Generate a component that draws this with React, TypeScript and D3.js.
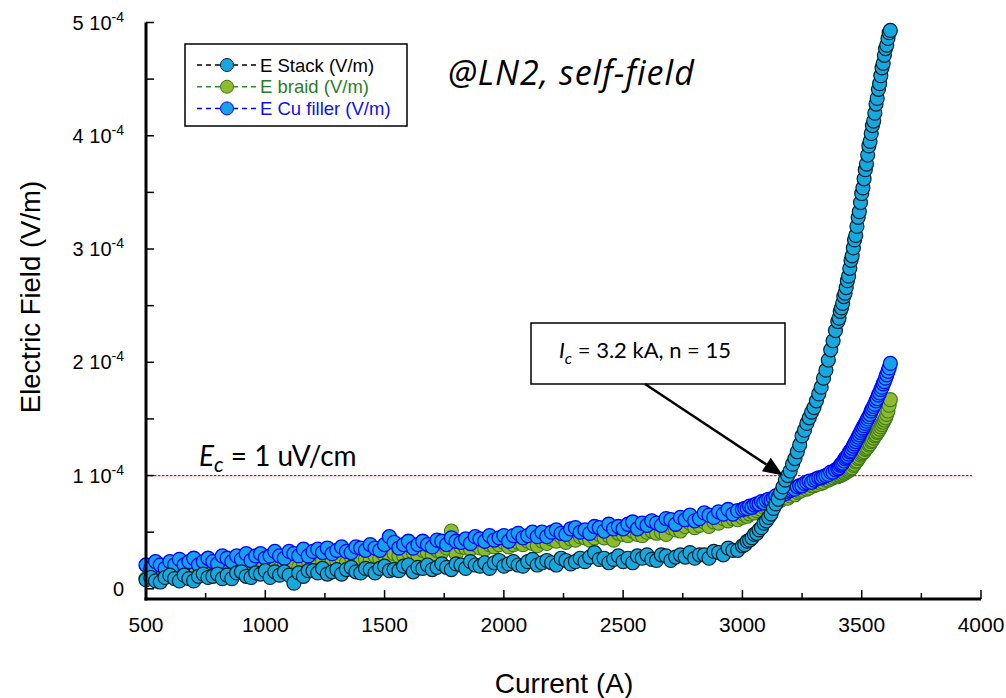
import React from "react";
import * as d3 from "d3";

// Shared current sweep (A)
const currentA = [
  500, 520, 540, 560, 580, 600, 620, 640, 660, 680,
  700, 720, 740, 760, 780, 800, 820, 840, 860, 880,
  900, 920, 940, 960, 980, 1000, 1020, 1040, 1060, 1080,
  1100, 1120, 1140, 1160, 1180, 1200, 1220, 1240, 1260, 1280,
  1300, 1320, 1340, 1360, 1380, 1400, 1420, 1440, 1460, 1480,
  1500, 1520, 1540, 1560, 1580, 1600, 1620, 1640, 1660, 1680,
  1700, 1720, 1740, 1760, 1780, 1800, 1820, 1840, 1860, 1880,
  1900, 1920, 1940, 1960, 1980, 2000, 2020, 2040, 2060, 2080,
  2100, 2120, 2140, 2160, 2180, 2200, 2220, 2240, 2260, 2280,
  2300, 2320, 2340, 2360, 2380, 2400, 2420, 2440, 2460, 2480,
  2500, 2520, 2540, 2560, 2580, 2600, 2620, 2640, 2660, 2680,
  2700, 2720, 2740, 2760, 2780, 2800, 2820, 2840, 2860, 2880,
  2900, 2920, 2940, 2960, 2980,
  3000, 3010, 3020, 3030, 3040, 3050, 3060, 3070, 3080, 3090,
  3100, 3110, 3120, 3130, 3140, 3150, 3160, 3170, 3180, 3190,
  3200, 3210, 3220, 3230, 3240, 3250, 3260, 3270, 3280, 3290,
  3300, 3310, 3320, 3330, 3340, 3350, 3360, 3370, 3380, 3390,
  3400, 3405, 3410, 3415, 3420, 3425, 3430, 3435, 3440, 3445,
  3450, 3455, 3460, 3465, 3470, 3475, 3480, 3485, 3490, 3495,
  3500, 3505, 3510, 3515, 3520, 3525, 3530, 3535, 3540, 3545,
  3550, 3555, 3560, 3565, 3570, 3575, 3580, 3585, 3590, 3595,
  3600, 3605, 3610, 3615, 3620,
];

// Electric fields in µV/m (1e-6 V/m)
const eStack = [
  8, 10, 7, 6, 10, 12, 9, 7, 12, 9,
  7, 11, 13, 10, 11, 13, 9, 12, 9, 14,
  15, 11, 10, 14, 13, 16, 10, 15, 12, 15,
  12, 5, 14, 11, 16, 16, 14, 18, 13, 15,
  17, 13, 17, 19, 15, 14, 18, 17, 14, 18,
  20, 16, 17, 16, 20, 21, 15, 19, 18, 21,
  17, 19, 22, 19, 17, 22, 21, 18, 24, 21,
  20, 23, 18, 23, 25, 20, 22, 24, 21, 20,
  24, 26, 21, 23, 25, 23, 21, 27, 25, 22,
  24, 27, 24, 28, 32, 26, 27, 23, 26, 29,
  24, 27, 23, 29, 27, 30, 26, 25, 30, 29,
  25, 28, 30, 28, 32, 27, 30, 30, 27, 33,
  32, 30, 36, 34, 34,
  38, 39, 42, 43, 45, 48, 49, 52, 54, 58,
  60, 63, 66, 71, 75, 79, 85, 90, 96, 100,
  104, 110, 115, 121, 127, 135, 140, 146, 151, 156,
  160, 166, 172, 178, 186, 193, 202, 211, 219, 228,
  236, 239, 245, 248, 252, 258, 261, 266, 272, 276,
  283, 290, 294, 301, 308, 312, 320, 328, 333, 341,
  349, 354, 362, 370, 375, 383, 391, 395, 402, 409,
  413, 420, 428, 433, 441, 446, 453, 460, 464, 471,
  477, 480, 486, 491, 493,
];

const eBraid = [
  9, 12, 11, 9, 12, 15, 10, 12, 15, 12,
  14, 12, 16, 14, 12, 16, 17, 15, 16, 19,
  15, 18, 17, 20, 17, 15, 21, 20, 18, 20,
  23, 20, 19, 23, 24, 22, 20, 25, 22, 25,
  24, 27, 23, 28, 25, 27, 26, 25, 29, 27,
  29, 25, 31, 29, 29, 32, 32, 29, 34, 32,
  30, 34, 32, 36, 51, 31, 37, 36, 35, 39,
  36, 35, 39, 37, 39, 41, 37, 39, 41, 39,
  42, 40, 38, 42, 40, 44, 42, 46, 41, 44,
  43, 46, 45, 43, 45, 48, 45, 47, 43, 49,
  48, 47, 51, 48, 47, 50, 51, 49, 50, 48,
  54, 52, 51, 55, 58, 54, 56, 59, 55, 59,
  58, 62, 60, 62, 61,
  63, 65, 64, 66, 68, 67, 69, 71, 70, 72,
  73, 75, 74, 76, 77, 79, 78, 80, 81, 80,
  82, 84, 83, 85, 86, 87, 89, 88, 89, 91,
  91, 92, 94, 93, 94, 96, 96, 97, 98, 99,
  99, 100, 100, 101, 101, 102, 102, 103, 104, 104,
  105, 106, 107, 109, 110, 112, 113, 115, 116, 118,
  119, 120, 121, 123, 124, 125, 127, 128, 130, 131,
  133, 135, 136, 138, 139, 141, 143, 145, 147, 149,
  151, 154, 157, 162, 167,
];

const eCuFiller = [
  21, 18, 24, 21, 18, 24, 21, 26, 21, 24,
  27, 21, 24, 27, 24, 22, 29, 27, 24, 29,
  26, 31, 25, 29, 31, 27, 29, 33, 29, 27,
  33, 31, 29, 35, 29, 33, 35, 32, 36, 31,
  34, 37, 33, 32, 37, 36, 34, 39, 36, 34,
  39, 46, 41, 36, 39, 42, 36, 39, 42, 39,
  37, 43, 42, 39, 45, 42, 41, 44, 40, 46,
  44, 42, 47, 43, 45, 47, 42, 47, 49, 45,
  47, 50, 46, 50, 46, 50, 52, 49, 48, 53,
  54, 50, 52, 49, 55, 54, 51, 57, 53, 55,
  53, 57, 59, 53, 58, 56, 60, 58, 56, 62,
  61, 57, 63, 61, 65, 60, 62, 67, 65, 63,
  68, 66, 70, 66, 69,
  70, 71, 71, 73, 72, 74, 75, 75, 77, 76,
  78, 79, 78, 80, 82, 81, 83, 85, 84, 86,
  87, 88, 88, 90, 91, 91, 93, 94, 95, 94,
  96, 97, 98, 98, 99, 100, 101, 103, 103, 105,
  106, 107, 109, 110, 111, 113, 115, 116, 117, 119,
  121, 122, 124, 126, 128, 130, 132, 134, 136, 138,
  140, 142, 144, 146, 148, 150, 152, 154, 157, 159,
  161, 163, 166, 168, 171, 173, 176, 178, 181, 183,
  186, 189, 192, 195, 199,
];

const xTicks = [500, 1000, 1500, 2000, 2500, 3000, 3500, 4000];
const xMinorTicks = [750, 1250, 1750, 2250, 2750, 3250, 3750];
const yTicks = [0, 1e-4, 2e-4, 3e-4, 4e-4, 5e-4];
const yTickMantissa = ["0", "1", "2", "3", "4", "5"];
const yMinorTicks = [0.5e-4, 1.5e-4, 2.5e-4, 3.5e-4, 4.5e-4];
const seriesNames = ["E Stack (V/m)", "E braid (V/m)", "E Cu filler (V/m)"];
const criticalField = 1e-4; // 1 uV/cm
const criticalCurrentMark = 3170;

const LATO = "Lato, 'Open Sans', sans-serif";
const OPEN = "'Open Sans', Lato, sans-serif";
const ARIAL = "'Liberation Sans', Arial, sans-serif";

export default function App() {
  const W = 1006, H = 698;
  const x = d3.scaleLinear().domain([500, 4000]).range([146, 981]);
  const y = d3.scaleLinear().domain([-0.09e-4, 5e-4]).range([599, 22.5]);

  const series = [
    { name: seriesNames[1], values: eBraid, fill: "#8dbb2b", stroke: "#3a7a1a", sw: 1.1, line: "#2e8b2e", text: "#2a7d2a" },
    { name: seriesNames[2], values: eCuFiller, fill: "#17a2e6", stroke: "#0000ff", sw: 1.3, line: "#0000ff", text: "#1010e8" },
    { name: seriesNames[0], values: eStack, fill: "#17a8e0", stroke: "#08202a", sw: 1.2, line: "#000000", text: "#000000" },
  ];
  const legendOrder = [series[2], series[0], series[1]];

  const lineGen = d3.line<number>()
    .x((_, i) => x(currentA[i]))
    .y((v) => y(v * 1e-6));

  // arrow
  const tipX = x(criticalCurrentMark), tipY = y(criticalField);
  const startX = 645, startY = 384;
  const dx = tipX - startX, dy = tipY - startY;
  const len = Math.hypot(dx, dy);
  const ux = dx / len, uy = dy / len;
  const hl = 20, hw = 8;
  const bx = tipX - hl * ux, by = tipY - hl * uy;
  const arrowPts = `${tipX},${tipY} ${bx - hw * uy},${by + hw * ux} ${bx + hw * uy},${by - hw * ux}`;

  const y0 = y.range()[0];
  const yTop = y(5e-4);

  return (
    <svg width={W} height={H} style={{ position: "absolute", left: 0, top: 0, background: "#fff" }}>
      <rect x={0} y={0} width={W} height={H} fill="#fff" />

      {/* Ec line */}
      <line x1={x(500)} x2={972} y1={y(criticalField)} y2={y(criticalField)} stroke="#ff0000" strokeWidth={1.2} strokeDasharray="2.5,1.5" />

      {/* series */}
      {series.map((s) => (
        <g key={s.name}>
          <path d={lineGen(s.values) || ""} fill="none" stroke={s.line} strokeWidth={1} strokeDasharray="4,3" />
          {s.values.map((v, i) => (
            <circle key={i} cx={x(currentA[i])} cy={y(v * 1e-6)} r={7} fill={s.fill} stroke={s.stroke} strokeWidth={s.sw} />
          ))}
        </g>
      ))}

      {/* axes */}
      <line x1={x(500)} x2={x(500)} y1={y0 + 1.5} y2={yTop} stroke="#000" strokeWidth={3} />
      <line x1={x(500) - 1.5} x2={x(4000)} y1={y0} y2={y0} stroke="#000" strokeWidth={3} />
      {yTicks.map((t) => (
        <line key={"yt" + t} x1={x(500)} x2={x(500) + 8} y1={y(t)} y2={y(t)} stroke="#000" strokeWidth={1.5} />
      ))}
      {yMinorTicks.map((t) => (
        <line key={"ym" + t} x1={x(500)} x2={x(500) + 8} y1={y(t)} y2={y(t)} stroke="#000" strokeWidth={1.5} />
      ))}
      {xTicks.map((t) => (
        <line key={"xt" + t} x1={x(t)} x2={x(t)} y1={y0} y2={y0 - 9} stroke="#000" strokeWidth={1.5} />
      ))}
      {xMinorTicks.map((t) => (
        <line key={"xm" + t} x1={x(t)} x2={x(t)} y1={y0} y2={y0 - 6} stroke="#000" strokeWidth={1.5} />
      ))}

      {/* tick labels */}
      {xTicks.map((t) => (
        <text key={"xl" + t} x={x(t)} y={632} textAnchor="middle" fontFamily={ARIAL} fontSize={21} fill="#000">{t}</text>
      ))}
      {yTicks.map((t, i) => (
        <text key={"yl" + t} x={124} y={y(t) + 7} textAnchor="end" fontFamily={ARIAL} fontSize={20} fill="#000">
          {i === 0 ? "0" : (<>{yTickMantissa[i]} 10<tspan dy={-8} fontSize={14}>-4</tspan></>)}
        </text>
      ))}

      {/* axis titles */}
      <text x={564} y={693} textAnchor="middle" fontFamily={ARIAL} fontSize={28} fill="#000">Current (A)</text>
      <text transform={`translate(40,297) rotate(-90)`} textAnchor="middle" fontFamily={ARIAL} fontSize={27.5} fill="#000">Electric Field (V/m)</text>

      {/* Ec label */}
      <text x={199} y={466} fontFamily={LATO} fontSize={28} fill="#000">
        <tspan fontStyle="italic">E</tspan>
        <tspan fontStyle="italic" fontSize={21} dy={6}>c</tspan>
        <tspan dy={-6}> = 1 uV/cm</tspan>
      </text>

      {/* @LN2 */}
      <text x={448} y={85} fontFamily={OPEN} fontStyle="italic" fontSize={34} letterSpacing={1} fill="#000">@LN2, self-field</text>

      {/* annotation */}
      <rect x={531} y={323} width={254} height={61} fill="#fff" stroke="#000" strokeWidth={1.5} />
      <text x={645} y={358} textAnchor="middle" fontFamily={LATO} fontSize={22} fill="#000">
        <tspan fontStyle="italic">I</tspan>
        <tspan fontStyle="italic" fontSize={16} dy={6}>c</tspan>
        <tspan dy={-6}> = 3.2 kA, n = 15</tspan>
      </text>
      <line x1={startX} y1={startY} x2={bx} y2={by} stroke="#000" strokeWidth={2.5} />
      <polygon points={arrowPts} fill="#000" />

      {/* legend */}
      <rect x={185} y={44} width={222} height={82} fill="#fff" stroke="#000" strokeWidth={1.5} />
      {legendOrder.map((s, i) => {
        const ly = 65 + i * 21.7;
        return (
          <g key={"lg" + i}>
            <line x1={197} x2={257} y1={ly} y2={ly} stroke={s.line} strokeWidth={1.5} strokeDasharray="5,4" />
            <circle cx={227} cy={ly} r={6.5} fill={s.fill} stroke={s.stroke} strokeWidth={1} />
            <text x={260} y={ly + 6.5} fontFamily={ARIAL} fontSize={18.5} fill={s.text}>{s.name}</text>
          </g>
        );
      })}
    </svg>
  );
}
